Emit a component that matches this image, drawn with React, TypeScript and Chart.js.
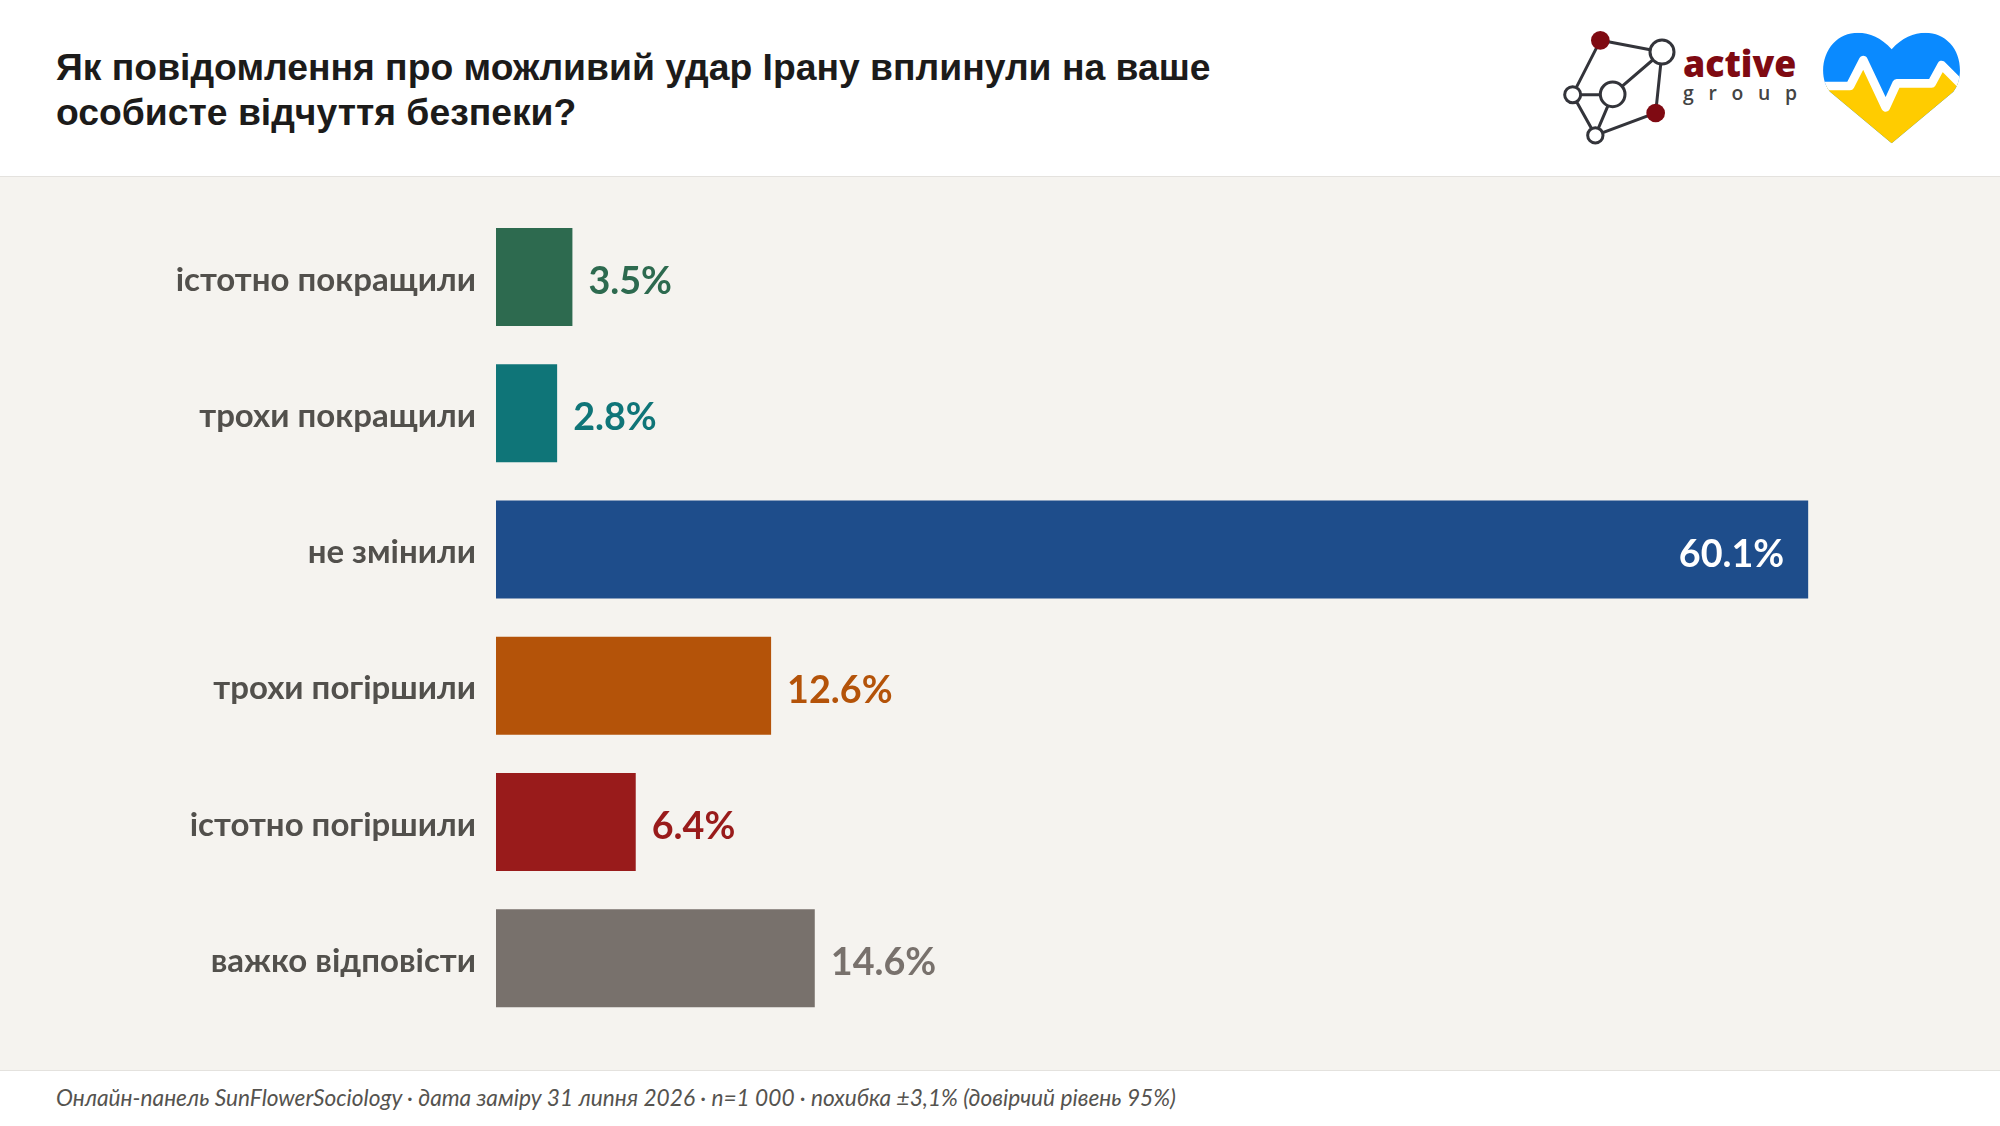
import React, { useEffect, useRef } from "react";
import { Chart, registerables } from "chart.js";

Chart.register(...registerables);

const titleLines = [
  "Як повідомлення про можливий удар Ірану вплинули на ваше",
  "особисте відчуття безпеки?",
];
const categories = [
  "істотно покращили",
  "трохи покращили",
  "не змінили",
  "трохи погіршили",
  "істотно погіршили",
  "важко відповісти",
];
const values = [3.5, 2.8, 60.1, 12.6, 6.4, 14.6];
const barColors = ["#2d6a4f", "#0f7578", "#1e4d8b", "#b45309", "#991b1b", "#78716c"];
const footnote =
  "Онлайн-панель SunFlowerSociology · дата заміру 31 липня 2026 · n=1 000 · похибка ±3,1% (довірчий рівень 95%)";

const LABEL_FONT = "Lato, Carlito, sans-serif";

// value labels: outside the bar, white and inside for the long one
const valueLabels = {
  id: "valueLabels",
  afterDatasetsDraw(chart: Chart) {
    const { ctx } = chart;
    const bars = chart.getDatasetMeta(0).data;
    ctx.save();
    ctx.font = `bold 37.7px ${LABEL_FONT}`;
    ctx.textBaseline = "middle";
    bars.forEach((bar: any, i: number) => {
      const text = `${values[i]}%`;
      const inside = values[i] > 30;
      ctx.textAlign = inside ? "right" : "left";
      ctx.fillStyle = inside ? "#ffffff" : barColors[i];
      ctx.fillText(text, bar.x + (inside ? -24 : 16), bar.y + 5);
    });
    ctx.restore();
  },
};

function Logos() {
  return (
    <svg
      style={{ position: "absolute", left: 1500, top: 0 }}
      width={500}
      height={176}
      viewBox="0 0 1500 528"
    >
      <defs>
        <clipPath id="heart">
          <path d="M1175 430 L990 275 C960 240 962 170 1000 130 C1040 85 1120 85 1175 148 C1230 85 1310 85 1350 130 C1388 170 1388 240 1360 275 Z" />
        </clipPath>
      </defs>
      <g fill="none" stroke="#33343a" strokeWidth={9}>
        <path d="M301 121 L486 156 L467 339 L286 406 L218 284 Z" />
        <path d="M218 284 H338 L286 406 M338 283 L486 156" />
      </g>
      <g fill="#ffffff" stroke="#33343a" strokeWidth={9}>
        <circle cx={486} cy={156} r={36} />
        <circle cx={338} cy={283} r={37} />
        <circle cx={218} cy={284} r={24} />
        <circle cx={286} cy={406} r={23} />
      </g>
      <circle cx={301} cy={121} r={28} fill="#7f0a12" />
      <circle cx={467} cy={339} r={28} fill="#7f0a12" />
      <text x={549} y={232} fontFamily="'Open Sans', sans-serif" fontWeight={800} fontSize={112} fill="#7f0a12" textLength={340} lengthAdjust="spacingAndGlyphs">
        active
      </text>
      <text x={549} y={300} fontFamily="'Open Sans', sans-serif" fontWeight={600} fontSize={58} fill="#444444" textLength={342}>
        group
      </text>
      <g clipPath="url(#heart)">
        <rect x={950} y={80} width={450} height={360} fill="#0a8aff" />
        <polygon
          points="960,258 1050,258 1090,180 1157,322 1190,250 1295,250 1325,195 1400,270 1400,440 950,440"
          fill="#ffcc00"
        />
        <polyline
          points="960,258 1050,258 1090,180 1157,322 1190,250 1295,250 1325,195 1400,270"
          fill="none"
          stroke="#ffffff"
          strokeWidth={26}
          strokeLinejoin="round"
        />
      </g>
    </svg>
  );
}

export default function App() {
  const canvasRef = useRef<HTMLCanvasElement | null>(null);

  useEffect(() => {
    const ctx = canvasRef.current?.getContext("2d");
    if (!ctx) return;

    const chart = new Chart(ctx, {
      type: "bar",
      data: {
        labels: categories,
        datasets: [
          {
            data: values,
            backgroundColor: barColors,
            barPercentage: 0.72,
            categoryPercentage: 1,
          },
        ],
      },
      options: {
        indexAxis: "y",
        animation: false,
        responsive: false,
        layout: { padding: { top: 27.6, bottom: 44.6, right: 63 } },
        plugins: { legend: { display: false }, tooltip: { enabled: false } },
        scales: {
          x: { display: false, min: 0, max: 66 },
          y: {
            afterFit: (scale: any) => {
              scale.width = 496;
            },
            grid: { display: false },
            border: { display: false },
            ticks: {
              color: "#52504c",
              padding: 12,
              labelOffset: 3,
              font: { family: LABEL_FONT, size: 33, weight: "bold" },
            },
          },
        },
      },
      plugins: [valueLabels],
    });

    return () => {
      chart.destroy();
    };
  }, []);

  return (
    <div
      style={{
        position: "absolute",
        left: 0,
        top: 0,
        width: 2000,
        height: 1126,
        background: "#ffffff",
        overflow: "hidden",
      }}
    >
      <div
        style={{
          position: "absolute",
          left: 56,
          top: 45,
          fontFamily: "'Liberation Sans', Arial, sans-serif",
          fontWeight: 700,
          fontSize: 37.3,
          lineHeight: "45px",
          color: "#1c1b1a",
          whiteSpace: "nowrap",
        }}
      >
        {titleLines.map((line) => (
          <div key={line}>{line}</div>
        ))}
      </div>
      <Logos />
      <div
        style={{
          position: "absolute",
          left: 0,
          top: 176,
          width: 2000,
          height: 895,
          boxSizing: "border-box",
          background: "#f5f3ef",
          borderTop: "1px solid #e4e2de",
          borderBottom: "1px solid #e4e2de",
        }}
      />
      <canvas
        ref={canvasRef}
        width={2000}
        height={894}
        style={{ position: "absolute", left: 0, top: 177, width: 2000, height: 894 }}
      />
      <div
        style={{
          position: "absolute",
          left: 56,
          top: 1084,
          fontFamily: LABEL_FONT,
          fontStyle: "italic",
          fontSize: 22.7,
          lineHeight: "28px",
          color: "#55534f",
          whiteSpace: "nowrap",
        }}
      >
        {footnote}
      </div>
    </div>
  );
}
